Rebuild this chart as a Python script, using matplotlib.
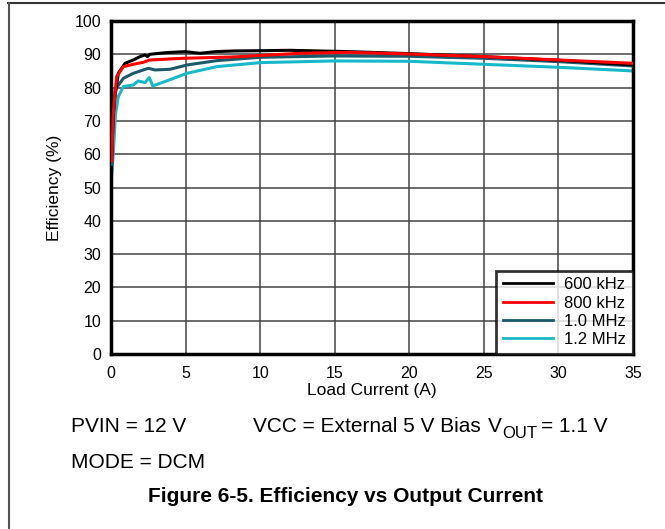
import matplotlib
matplotlib.use("Agg")
import matplotlib.pyplot as plt
from matplotlib.lines import Line2D

plt.rcParams['font.family'] = ['Liberation Sans', 'DejaVu Sans']

labels = ["600 kHz", "800 kHz", "1.0 MHz", "1.2 MHz"]
colors = ["#000000", "#ff0000", "#1b5a6b", "#17b8c8"]

x_600 = [0.05, 0.15, 0.27, 0.49, 0.94, 1.5, 1.94, 2.28, 2.45, 2.6, 3.7, 4.96, 5.97, 7.0, 8.2, 10.4, 12.0, 16.0, 20.0, 25.0, 30.0, 35.0]
y_600 = [60.0, 72.0, 77.3, 84.3, 87.3, 88.3, 89.3, 89.8, 89.3, 90.0, 90.5, 90.8, 90.3, 90.8, 91.0, 91.1, 91.2, 90.8, 90.2, 89.3, 88.2, 86.8]

x_800 = [0.05, 0.15, 0.38, 0.83, 1.5, 2.17, 2.6, 4.85, 8.2, 12.7, 16.0, 20.0, 25.0, 30.0, 35.0]
y_800 = [58.0, 72.3, 83.3, 86.3, 87.0, 87.6, 88.3, 88.8, 89.2, 90.3, 90.6, 90.1, 89.3, 88.3, 87.3]

x_1m0 = [0.05, 0.15, 0.27, 0.83, 1.5, 2.5, 2.95, 3.96, 5.1, 7.1, 10.0, 14.9, 20.0, 25.0, 30.0, 35.0]
y_1m0 = [57.0, 70.0, 79.3, 82.8, 84.3, 85.8, 85.3, 85.5, 86.8, 88.1, 89.1, 89.5, 89.4, 88.8, 87.8, 86.5]

x_1m2 = [0.05, 0.15, 0.3, 0.49, 0.83, 1.5, 1.83, 2.28, 2.57, 2.8, 3.73, 5.1, 7.1, 10.0, 14.9, 20.0, 25.0, 30.0, 35.0]
y_1m2 = [54.0, 60.0, 72.0, 77.3, 80.3, 80.8, 82.0, 81.5, 83.0, 80.5, 82.0, 84.3, 86.3, 87.5, 88.0, 87.9, 87.0, 86.1, 85.0]

xticks = [0, 5, 10, 15, 20, 25, 30, 35]
yticks = [0, 10, 20, 30, 40, 50, 60, 70, 80, 90, 100]

fig = plt.figure(figsize=(6.65, 5.29), dpi=100)
ax = fig.add_axes([111/665, 1-354/529, (633-111)/665, (354-21)/529])

series = [(x_600, y_600), (x_800, y_800), (x_1m0, y_1m0), (x_1m2, y_1m2)]
zord = [4, 5, 3, 2]
for (xs, ys), c, lab, z in zip(series, colors, labels, zord):
    ax.plot(xs, ys, color=c, lw=2.2, label=lab, zorder=z, solid_joinstyle='round')

ax.set_xlim(0, 35)
ax.set_ylim(0, 100)
ax.set_xticks(xticks)
ax.set_yticks(yticks)
ax.tick_params(length=0, labelsize=11.5)
ax.tick_params(axis='x', pad=9)
ax.tick_params(axis='y', pad=7)
ax.grid(True, color="#444444", lw=1.1)
ax.set_axisbelow(True)
for s in ax.spines.values():
    s.set_linewidth(2.5)
    s.set_color("black")

ax.set_xlabel("Load Current (A)", fontsize=12.5, labelpad=1)
ax.set_ylabel("Efficiency (%)", fontsize=12.5, labelpad=9)

handles = [Line2D([], [], color=c, lw=2) for c in colors]
leg = ax.legend(handles, labels, loc="lower right", fontsize=12, frameon=True,
                fancybox=False, borderaxespad=0, handlelength=3.0,
                labelspacing=0.2, borderpad=0.4, handletextpad=0.7)
leg.get_frame().set_edgecolor("black")
leg.get_frame().set_linewidth(2)

yc = 1 - 427/529
fig.text(71/665, yc, "PVIN = 12 V", fontsize=15, va="center", ha="left")
fig.text(253/665, yc, "VCC = External 5 V Bias", fontsize=15, va="center", ha="left")
fig.text(488/665, yc, "V", fontsize=15, va="center", ha="left")
fig.text(502/665, 1 - 433/529, "OUT", fontsize=12, va="center", ha="left")
fig.text(541/665, yc, "= 1.1 V", fontsize=15, va="center", ha="left")
fig.text(71/665, 1-462/529, "MODE = DCM", fontsize=15, va="center", ha="left")
fig.text(345/665, 1-496/529, "Figure 6-5. Efficiency vs Output Current", fontsize=15,
         fontweight="bold", va="center", ha="center")

fig.add_artist(Line2D([8/665, 1], [1-3/529, 1-3/529], color="#333333", lw=1.5, transform=fig.transFigure))
fig.add_artist(Line2D([9/665, 9/665], [1-3/529, 0], color="#555555", lw=1.5, transform=fig.transFigure))

fig.savefig("out.png", dpi=100)
